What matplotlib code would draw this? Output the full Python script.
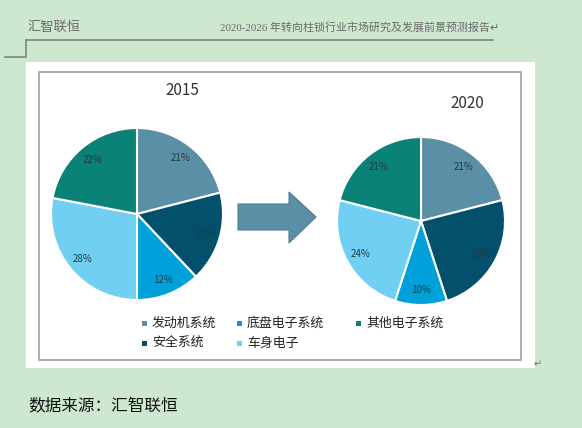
import matplotlib
matplotlib.use("Agg")
import matplotlib.pyplot as plt
from matplotlib.patches import Rectangle, Polygon

plt.rcParams['font.family'] = ['Noto Sans CJK SC', 'DejaVu Sans']

categories = ['发动机系统', '安全系统', '底盘电子系统', '车身电子', '其他电子系统']
values_2015 = [21, 17, 12, 28, 22]
values_2020 = [21, 24, 10, 24, 21]
legend_order = ['发动机系统', '底盘电子系统', '其他电子系统', '安全系统', '车身电子']
colors = {'发动机系统': '#5b8fa6', '安全系统': '#03506c', '底盘电子系统': '#00a1da',
          '车身电子': '#70cff2', '其他电子系统': '#0b8276'}
header_left = '汇智联恒'
header_right = '2020-2026 年转向柱锁行业市场研究及发展前景预测报告↵'
footer = '数据来源：汇智联恒'

W, H = 582, 428
fig = plt.figure(figsize=(W / 100, H / 100), dpi=100)
fig.patch.set_facecolor('#cde8cf')

bg = fig.add_axes([0, 0, 1, 1])
bg.set_xlim(0, W)
bg.set_ylim(H, 0)
bg.axis('off')

# header
bg.text(27, 27, header_left, fontsize=9.5, color='#6a6a6a', va='center', ha='left')
bg.text(499, 27, header_right, fontsize=7.9, color='#6a6a6a', va='center', ha='right',
        family=['Liberation Serif', 'Noto Sans CJK SC', 'DejaVu Sans'])
bg.plot([26, 493], [40, 40], color='#7a8a7a', lw=1.2)
bg.plot([26, 26, 5], [40, 57, 57], color='#7a8a7a', lw=1.2)

# white panel and border
bg.add_patch(Rectangle((26, 62), 509, 306, facecolor='white', edgecolor='none'))
bg.add_patch(Rectangle((39, 72), 482, 288, facecolor='none', edgecolor='#a0a0a0', lw=1.2))
bg.text(534, 364, '↵', fontsize=7, color='#707070', va='center', ha='left', family='DejaVu Sans')

# arrow
arrow = Polygon([(238, 204), (289, 204), (289, 192), (316, 217), (289, 243), (289, 230), (238, 230)],
                closed=True, facecolor='#5b8fa6', edgecolor='#4c7c92', lw=0.8)
bg.add_patch(arrow)

# titles
bg.text(182, 90, '2015', fontsize=11, color='#333333', ha='center', va='center')
bg.text(467, 103, '2020', fontsize=11, color='#333333', ha='center', va='center')

# footer
bg.text(28, 407, footer, fontsize=12, color='#111111', ha='left', va='center')


def pie_axes(cx, cy, r):
    return fig.add_axes([(cx - r) / W, (H - cy - r) / H, 2 * r / W, 2 * r / H])


for (cx, cy, r), vals in [((137, 214, 86), values_2015), ((421, 221, 84), values_2020)]:
    ax = pie_axes(cx, cy, r)
    wedges, texts, autotexts = ax.pie(
        vals, colors=[colors[c] for c in categories], startangle=90, counterclock=False,
        autopct='%d%%', pctdistance=0.82,
        wedgeprops=dict(edgecolor='white', linewidth=1.5),
        textprops=dict(fontsize=7, color='#1f3a44'))
    ax.set_xlim(-1, 1)
    ax.set_ylim(-1, 1)
    ax.axis('off')

# legend
pos = [(144, 323), (239, 323), (358, 323), (144, 343), (239, 343)]
for name, (x, y) in zip(legend_order, pos):
    bg.add_patch(Rectangle((x - 2.5, y - 2.5), 5, 5, facecolor=colors[name], edgecolor='none'))
    bg.text(x + 8, y, name, fontsize=9.3, color='#222222', ha='left', va='center')

fig.savefig('out.png', dpi=100, facecolor=fig.get_facecolor())
